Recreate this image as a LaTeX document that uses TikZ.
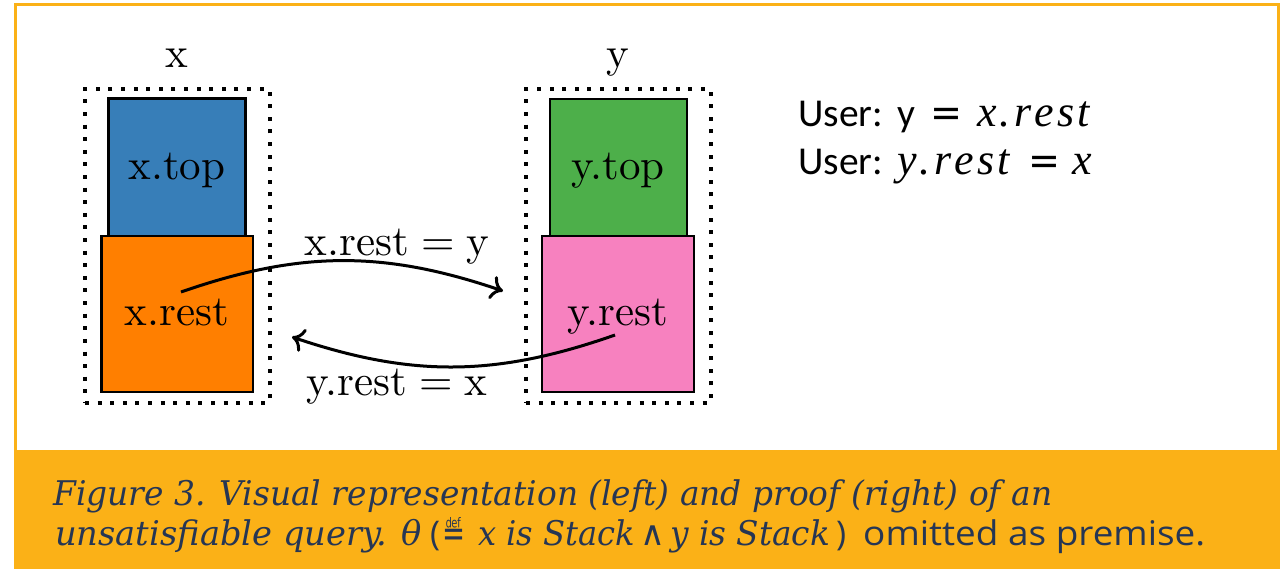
\documentclass[tikz,border=0pt]{standalone}
\usepackage{fontspec}
\usepackage{graphicx}
\usetikzlibrary{arrows.meta}
\newfontfamily\cmfont{lmroman10-regular.otf}
\newfontfamily\capserif{DejaVu Serif}
\newfontfamily\capsans{Open Sans}
\newfontfamily\usersans{Carlito}
\newfontfamily\symsans{DejaVu Sans}
\newfontfamily\cambit{Liberation Serif}
\newcommand{\fitw}[2]{\resizebox{#1}{\height}{#2}}
\newcommand{\gp}{\hspace{3.2pt}}
\definecolor{cBlue}{HTML}{377EB8}
\definecolor{cOrange}{HTML}{FF7F00}
\definecolor{cGreen}{HTML}{4DAF4A}
\definecolor{cPink}{HTML}{F781BF}
\definecolor{capfill}{RGB}{251,177,23}
\definecolor{captext}{RGB}{38,54,84}
\tikzset{
  cell/.style={draw=black, line width=2.5pt, inner sep=0pt},
  dotbox/.style={draw=black, line width=4pt, dash pattern=on 4pt off 8.6pt, inner sep=0pt, minimum width=184.5pt, minimum height=313.5pt},
  lbl/.style={font=\cmfont\fontsize{43}{50}\selectfont, inner sep=0pt, anchor=base},
  link/.style={line width=3pt, -{Computer Modern Rightarrow[length=12pt,width=24pt]}},
  usertxt/.style={font=\usersans\fontsize{39.5}{44}\selectfont, inner sep=0pt, anchor=base west},
  usermath/.style={font=\cambit\itshape\fontsize{44}{48}\selectfont, inner sep=0pt, anchor=base west},
  usereq/.style={font=\symsans\fontsize{40}{44}\selectfont, inner sep=0pt, anchor=base west},
  captxt/.style={font=\fontsize{34}{40}\selectfont, text=captext, inner sep=0pt, anchor=base west},
}
\begin{document}
\begin{tikzpicture}[x=1pt,y=-1pt]
\useasboundingbox (0,0) rectangle (1284,569);
\fill[white] (0,0) rectangle (1284,569);
% frame and caption band
\fill[capfill] (14,450) rectangle (1280,569);
\draw[capfill, line width=3.5pt] (15.5,572) -- (15.5,4.5) -- (1278.5,4.5) -- (1278.5,572);
% left stack
\node[dotbox] (xstack) at (177.25,245.75) {};
\node[cell, fill=cBlue, minimum width=137pt, minimum height=137.5pt] (xtop) at (177,167.25) {};
\node[cell, fill=cOrange, minimum width=151.5pt, minimum height=156pt] (xrest) at (177.25,314) {};
\node[lbl] (xname) at (177,68) {x};
\node[lbl] (xtoplbl) at (177,180) {x.top};
\node[lbl] (xrestlbl) at (177,325) {x.rest};
% right stack
\node[dotbox] (ystack) at (618.5,245.75) {};
\node[cell, fill=cGreen, minimum width=137pt, minimum height=137pt] (ytop) at (618.25,167.5) {};
\node[cell, fill=cPink, minimum width=152pt, minimum height=156pt] (yrest) at (618,314) {};
\node[lbl] (yname) at (618,68) {y};
\node[lbl] (ytoplbl) at (618,180) {y.top};
\node[lbl] (yrestlbl) at (618,325) {y.rest};
% arrows
\coordinate (a1s) at (181,292);
\coordinate (a1e) at (503,291);
\coordinate (a2s) at (615,335);
\coordinate (a2e) at (292,337);
\draw[link] (a1s) to[bend left=19] (a1e);
\draw[link] (a2s) to[bend left=19] (a2e);
\node[lbl] (l1) at (397,255) {x.rest\hspace{.2778em}=\hspace{.2778em}y};
\node[lbl] (l2) at (397,395) {y.rest\hspace{.2778em}=\hspace{.2778em}x};
% user text
\node[usertxt] (u1a) at (798,127) {User:};
\node[usertxt] (u1b) at (897,127) {y};
\node[usereq] (u1c) at (930,127) {\fitw{32pt}{=}};
\node[usermath] (u1d) at (977,127) {x\gp.\gp r\gp e\gp s\gp t};
\node[usertxt] (u2a) at (798,175) {User:};
\node[usermath] (u2b) at (897,175) {y\gp.\gp r\gp e\gp s\gp t};
\node[usereq] (u2c) at (1028,175) {\fitw{32pt}{=}};
\node[usermath] (u2d) at (1072,175) {x};
% caption
\node[captxt] (c1) at (53,505) {\fitw{999pt}{\capserif\itshape Figure 3. Visual representation (left) and proof (right) of an}};
\node[captxt] (c2a) at (55,545) {\fitw{367pt}{\capserif\itshape unsatisfiable query. θ}};
\node[captxt] (c2b) at (430,545) {\capsans(};
\node[captxt] (c2c) at (442,546) {\fitw{23pt}{\symsans\fontsize{38}{40}\selectfont ≝}};
\node[captxt] (c2d) at (478,545) {\fitw{157pt}{\capserif\itshape x is Stack}};
\node[captxt] (c2e) at (640,545) {\symsans ∧};
\node[captxt] (c2f) at (670,545) {\fitw{160pt}{\capserif\itshape y is Stack}};
\node[captxt] (c2g) at (836,545) {\capsans)};
\node[captxt] (c2h) at (863,545) {\fitw{342pt}{\capsans omitted as premise.}};
\end{tikzpicture}
\end{document}
